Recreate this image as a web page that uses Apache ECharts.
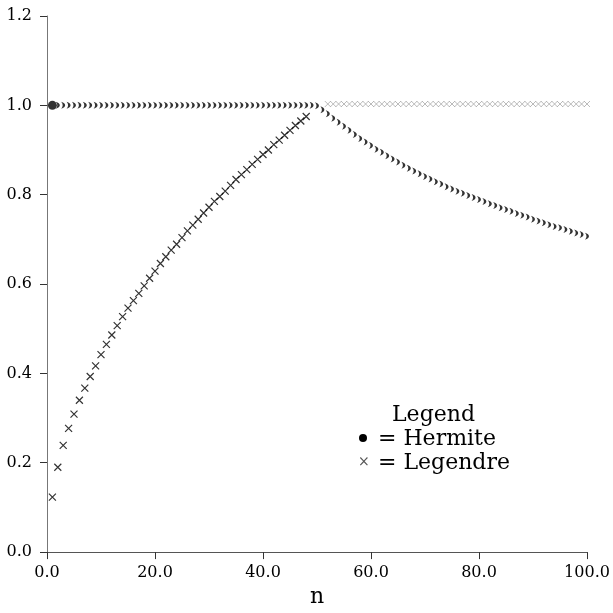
<!DOCTYPE html>
<html>
<head>
<meta charset="utf-8">
<script src="https://cdn.jsdelivr.net/npm/echarts@6/dist/echarts.min.js"></script>
<style>html,body{margin:0;padding:0;background:#fff}#c{width:613px;height:613px}</style>
</head>
<body>
<div id="c"></div>
<script>
// ---- data ----
const xTicks = [0, 20, 40, 60, 80, 100];
const yTicks = [0, 0.2, 0.4, 0.6, 0.8, 1.0, 1.2];

const hermiteN = [];
for (let n = 1; n <= 100; n++) hermiteN.push(n);
const hermite = [
  1.000,1.000,1.000,1.000,1.000,1.000,1.000,1.000,1.000,1.000,
  1.000,1.000,1.000,1.000,1.000,1.000,1.000,1.000,1.000,1.000,
  1.000,1.000,1.000,1.000,1.000,1.000,1.000,1.000,1.000,1.000,
  1.000,1.000,1.000,1.000,1.000,1.000,1.000,1.000,1.000,1.000,
  1.000,1.000,1.000,1.000,1.000,1.000,1.000,1.000,1.000,0.999,
  0.990,0.981,0.971,0.962,0.953,0.944,0.935,0.926,0.918,0.910,
  0.902,0.895,0.887,0.880,0.873,0.866,0.859,0.853,0.847,0.841,
  0.835,0.829,0.824,0.818,0.813,0.808,0.803,0.798,0.794,0.789,
  0.785,0.780,0.776,0.771,0.767,0.763,0.758,0.754,0.750,0.745,
  0.741,0.737,0.733,0.729,0.726,0.722,0.718,0.714,0.711,0.707
];

const legendreN = [];
for (let n = 1; n <= 48; n++) legendreN.push(n);
const legendre = [
  0.123,0.190,0.239,0.277,0.309,0.340,0.367,0.393,0.417,0.442,
  0.465,0.486,0.507,0.527,0.546,0.563,0.579,0.596,0.613,0.629,
  0.646,0.661,0.676,0.689,0.704,0.719,0.732,0.745,0.759,0.772,
  0.785,0.796,0.808,0.821,0.834,0.845,0.856,0.868,0.879,0.890,
  0.900,0.912,0.922,0.933,0.944,0.955,0.965,0.975
];
const legendreTailN = [];
for (let n = 52; n <= 100; n++) legendreTailN.push(n);
const legendreTail = legendreTailN.map(() => 1.003);

// ---- chart ----
const FONT = '"DejaVu Serif", "Liberation Serif", serif';
const CROSS = 'path://M0,0L10,10M10,0L0,10';
const CRESCENT = 'path://M0,0C8,3 8,11 0,14C3,10 3,4 0,0Z';

const chart = echarts.init(document.getElementById('c'), null, {renderer: 'canvas'});

const hermiteData = hermiteN.map((n, i) => i === 0
  ? {value: [n, hermite[i]], symbol: 'circle', symbolSize: 9, itemStyle: {color: '#000'}}
  : [n, hermite[i]]);

chart.setOption({
  animation: false,
  backgroundColor: '#fff',
  grid: {left: 47, right: 26, top: 16, bottom: 59, containLabel: false},
  xAxis: {
    type: 'value', min: 0, max: 100, interval: 20,
    name: 'n', nameLocation: 'middle', nameGap: 32,
    nameTextStyle: {fontFamily: FONT, fontSize: 22, color: '#000'},
    axisLine: {show: true, lineStyle: {color: '#555', width: 1}},
    axisTick: {show: true, length: 7, lineStyle: {color: '#333'}},
    axisLabel: {fontFamily: FONT, fontSize: 16, color: '#000', margin: 13,
      formatter: v => v.toFixed(1)},
    splitLine: {show: false}
  },
  yAxis: {
    type: 'value', min: 0, max: 1.2, interval: 0.2,
    axisLine: {show: true, lineStyle: {color: '#777', width: 1}},
    axisTick: {show: true, length: 7, lineStyle: {color: '#333'}},
    axisLabel: {fontFamily: FONT, fontSize: 16, color: '#000', margin: 15,
      formatter: v => v.toFixed(1)},
    splitLine: {show: false}
  },
  series: [
    {
      name: 'Legendre tail', type: 'scatter',
      data: legendreTailN.map((n, i) => [n, legendreTail[i]]),
      symbol: CROSS, symbolSize: 6,
      itemStyle: {color: 'transparent', borderColor: '#aaa', borderWidth: 1},
      z: 2
    },
    {
      name: 'Legendre', type: 'scatter',
      data: legendreN.map((n, i) => [n, legendre[i]]),
      symbol: CROSS, symbolSize: 7,
      itemStyle: {color: 'transparent', borderColor: '#000', borderWidth: 1.2},
      z: 3
    },
    {
      name: 'Hermite', type: 'scatter',
      data: hermiteData,
      symbol: CRESCENT, symbolSize: [4, 7],
      itemStyle: {color: '#000'},
      z: 4
    }
  ],
  graphic: [
    {type: 'text', left: 392, top: 404,
      style: {text: 'Legend', font: '22px ' + FONT, fill: '#000'}},
    {type: 'circle', shape: {cx: 363, cy: 438, r: 4}, style: {fill: '#000'}},
    {type: 'text', left: 378, top: 428,
      style: {text: '= Hermite', font: '22px ' + FONT, fill: '#000'}},
    {type: 'text', left: 358, top: 455,
      style: {text: '×', font: '14px ' + FONT, fill: '#555'}},
    {type: 'text', left: 378, top: 452,
      style: {text: '= Legendre', font: '22px ' + FONT, fill: '#000'}}
  ]
});
</script>
</body>
</html>
